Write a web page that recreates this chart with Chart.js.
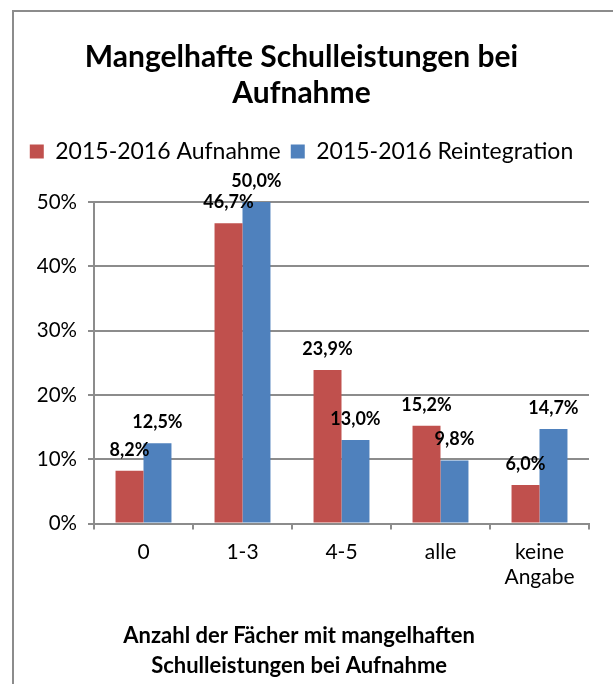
<!DOCTYPE html>
<html>
<head>
<meta charset="utf-8">
<script src="https://cdn.jsdelivr.net/npm/chart.js@4.4.0/dist/chart.umd.min.js"></script>
<style>
    html, body {
        margin: 0;
        padding: 0;
        background: #fff;
        overflow: hidden;
    }
    .frame {
        position: absolute;
        left: 12px;
        top: 10px;
        width: 620px;
        height: 700px;
        border-left: 2px solid #8c8c8c;
        border-top: 2px solid #8c8c8c;
    }
    #chart {
        display: block;
    }
</style>
</head>
<body>
<div class="frame">
    <canvas id="chart" width="599" height="672"></canvas>
</div>
<script>
const categories = ['0', '1-3', '4-5', 'alle', ['keine', 'Angabe']];
const aufnahme = [8.2, 46.7, 23.9, 15.2, 6.0];
const reintegration = [12.5, 50.0, 13.0, 9.8, 14.7];
const yTicks = [0, 10, 20, 30, 40, 50];
const titleLines = ['Mangelhafte Schulleistungen bei', 'Aufnahme'];
const xTitleLines = ['Anzahl der Fächer mit mangelhaften', 'Schulleistungen bei Aufnahme'];

const FONT = 'Lato, "Open Sans", sans-serif';
const gridColor = '#8c8c8c';

// value labels above the bars, german decimal comma
const valueLabels = {
    id: 'valueLabels',
    afterDatasetsDraw(chart) {
        const ctx = chart.ctx;
        ctx.save();
        ctx.font = 'bold 18px ' + FONT;
        ctx.fillStyle = '#000';
        ctx.textAlign = 'center';
        ctx.textBaseline = 'middle';
        chart.data.datasets.forEach((ds, i) => {
            chart.getDatasetMeta(i).data.forEach((bar, j) => {
                const txt = ds.data[j].toFixed(1).replace('.', ',') + '%';
                ctx.fillText(txt, bar.x, bar.y - 21);
            });
        });
        ctx.restore();
    }
};

// axis title under the category labels
const xTitle = {
    id: 'xTitle',
    afterDraw(chart) {
        const ctx = chart.ctx;
        ctx.save();
        ctx.font = 'bold 22px ' + FONT;
        ctx.fillStyle = '#000';
        ctx.textAlign = 'center';
        ctx.textBaseline = 'middle';
        const x = chart.width * 0.476;
        ctx.fillText(xTitleLines[0], x, chart.height - 48);
        ctx.fillText(xTitleLines[1], x, chart.height - 18);
        ctx.restore();
    }
};

const ctx = document.getElementById('chart').getContext('2d');
const myChart = new Chart(ctx, {
    type: 'bar',
    data: {
        labels: categories,
        datasets: [{
            label: '2015-2016 Aufnahme',
            data: aufnahme,
            backgroundColor: '#C0504D',
            borderWidth: 0
        }, {
            label: '2015-2016 Reintegration',
            data: reintegration,
            backgroundColor: '#4F81BD',
            borderWidth: 0
        }]
    },
    options: {
        responsive: false,
        animation: false,
        devicePixelRatio: 1,
        layout: {
            padding: {
                left: 0,
                right: 24,
                top: 0,
                bottom: 84
            }
        },
        datasets: {
            bar: {
                barPercentage: 1,
                categoryPercentage: 0.565
            }
        },
        scales: {
            x: {
                grid: {
                    display: true,
                    drawOnChartArea: false,
                    drawTicks: true,
                    tickLength: 6,
                    color: gridColor,
                    lineWidth: 2
                },
                border: {
                    display: true,
                    color: gridColor,
                    width: 2
                },
                ticks: {
                    color: '#000',
                    padding: 10,
                    font: { family: FONT, size: 21, lineHeight: 1.2 },
                    maxRotation: 0
                }
            },
            y: {
                min: 0,
                max: 50,
                afterBuildTicks(scale) {
                    scale.ticks = yTicks.map(v => ({ value: v }));
                },
                afterFit(scale) {
                    scale.width = 80;
                },
                grid: {
                    color: gridColor,
                    lineWidth: 2,
                    drawTicks: true,
                    tickLength: 6
                },
                border: {
                    display: true,
                    color: gridColor,
                    width: 2
                },
                ticks: {
                    color: '#000',
                    padding: 11,
                    font: { family: FONT, size: 20.5 },
                    callback: v => v + '%'
                }
            }
        },
        plugins: {
            title: {
                display: true,
                text: titleLines,
                color: '#000',
                font: { family: FONT, size: 30, weight: 'bold', lineHeight: 1.2 },
                padding: { top: 27, bottom: 19 }
            },
            legend: {
                display: true,
                position: 'top',
                weight: 1800,
                labels: {
                    color: '#000',
                    boxWidth: 14,
                    boxHeight: 14,
                    padding: 10,
                    font: { family: FONT, size: 23 }
                }
            },
            // empty spacer between legend and plot
            subtitle: {
                display: true,
                text: '',
                font: { size: 10, lineHeight: 1 },
                padding: { top: 19, bottom: 0 }
            },
            tooltip: { enabled: false }
        }
    },
    plugins: [valueLabels, xTitle]
});
</script>
</body>
</html>
